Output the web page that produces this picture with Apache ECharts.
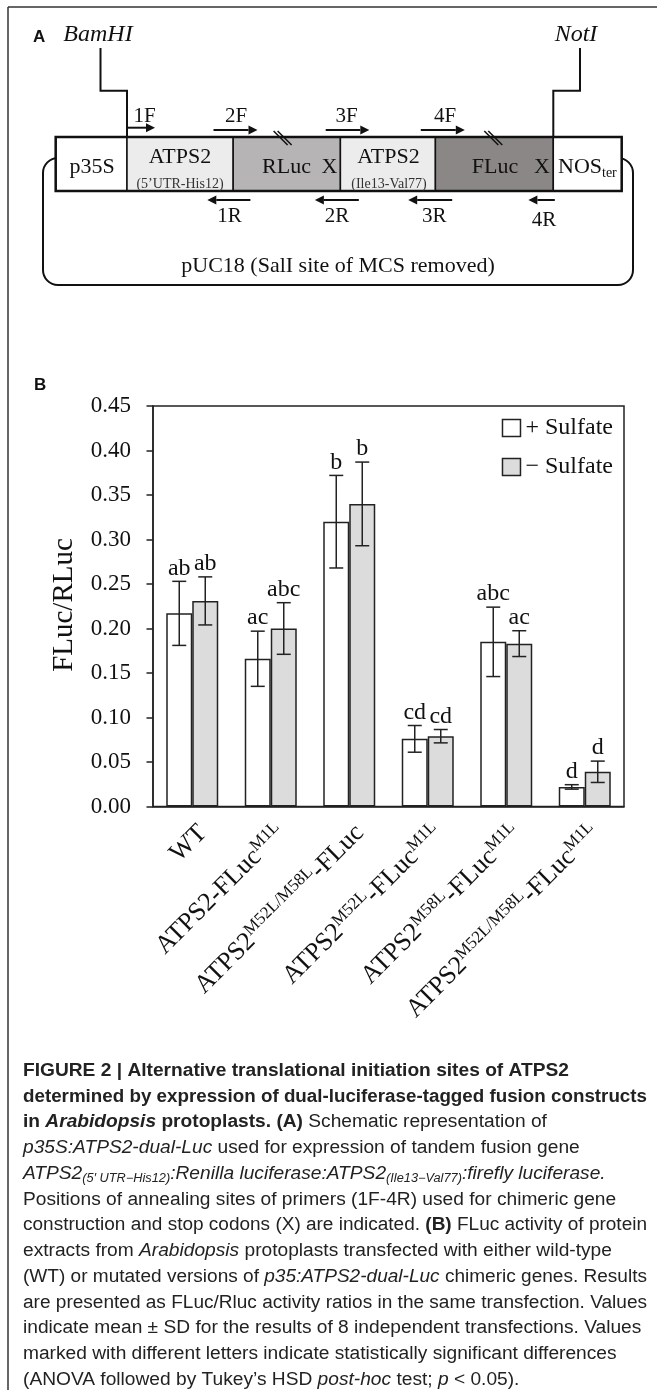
<!DOCTYPE html>
<html><head><meta charset="utf-8">
<script src="https://cdn.jsdelivr.net/npm/echarts@6/dist/echarts.min.js"></script>
<style>html,body{margin:0;padding:0;background:#fff}#c{width:657px;height:1390px}</style>
</head><body><div id="c"></div>
<script>
// ---------------- data ----------------
const categories = ['WT', 'ATPS2-FLuc^M1L', 'ATPS2^M52L/M58L-FLuc', 'ATPS2^M52L-FLuc^M1L', 'ATPS2^M58L-FLuc^M1L', 'ATPS2^M52L/M58L-FLuc^M1L'];
const seriesNames = ['+ Sulfate', '− Sulfate'];
const plusSulfate = [0.217, 0.166, 0.320, 0.076, 0.185, 0.022];
const plusSulfateSD = [0.036, 0.031, 0.052, 0.015, 0.039, 0.0025];
const minusSulfate = [0.231, 0.200, 0.340, 0.079, 0.183, 0.039];
const minusSulfateSD = [0.027, 0.029, 0.047, 0.0075, 0.0145, 0.012];
const plusLetters = ['ab', 'ac', 'b', 'cd', 'abc', 'd'];
const minusLetters = ['ab', 'abc', 'b', 'cd', 'ac', 'd'];
const yMin = 0, yMax = 0.45, yStep = 0.05;

// ---------------- styles ----------------
const SERIF = '"Liberation Serif","Times New Roman",serif';
const SANS = '"Liberation Sans",Arial,sans-serif';
const INK = '#111';
const g = [];
function line(x1, y1, x2, y2, w, c) { g.push({type: 'line', silent: true, shape: {x1, y1, x2, y2}, style: {stroke: c || INK, lineWidth: w || 2}}); }
function poly(points, w) { g.push({type: 'polyline', silent: true, shape: {points}, style: {stroke: INK, lineWidth: w || 2, fill: null}}); }
function rect(x, y, w, h, fill, lw, r) { g.push({type: 'rect', silent: true, shape: {x, y, width: w, height: h, r: r || 0}, style: {fill: fill || null, stroke: INK, lineWidth: lw || 1.5}}); }
function txt(x, y, text, size, opt) { g.push({type: 'text', silent: true, x, y, style: Object.assign({text, fontFamily: SERIF, fontSize: size, fill: INK, align: 'center', verticalAlign: 'middle'}, opt || {})}); }
function arrow(x1, x2, y) {
  const d = x2 > x1 ? 1 : -1, hl = 9, hw = 4.5;
  line(x1, y, x2 - d * hl, y, 2);
  g.push({type: 'polygon', silent: true, shape: {points: [[x2, y], [x2 - d * hl, y - hw], [x2 - d * hl, y + hw]]}, style: {fill: INK}});
}

// figure frame
line(8, 7, 657, 7, 1.5, '#333');
line(8, 7, 8, 1390, 1.5, '#333');

// ---------------- panel A (schematic) ----------------
txt(33, 37, 'A', 17, {fontFamily: SANS, fontWeight: 'bold', align: 'left'});
txt(98, 35, 'BamHI', 24, {fontStyle: 'italic'});
txt(576, 35, 'NotI', 24, {fontStyle: 'italic'});
rect(43, 158, 590, 127, null, 2, 15);
const segX = [55.7, 127, 233.2, 340.4, 435.4, 553.3, 621.7];
const segFill = ['#ffffff', '#ececec', '#b6b4b4', '#ececec', '#8b8787', '#ffffff'];
for (let i = 0; i < 6; i++) rect(segX[i], 137, segX[i + 1] - segX[i], 54, segFill[i], 1.5);
rect(55.7, 137, 566, 54, null, 2.5);
poly([[100.5, 48], [100.5, 90.7], [127, 90.7], [127, 137]], 2);
poly([[580, 48], [580, 90.7], [553.3, 90.7], [553.3, 137]], 2);
txt(92, 167, 'p35S', 22);
txt(180, 157, 'ATPS2', 22);
txt(180, 184, '(5’UTR-His12)', 14, {fill: '#333'});
txt(286.5, 167, 'RLuc', 22);
txt(329.5, 167, 'X', 22);
txt(388.5, 157, 'ATPS2', 22);
txt(389, 184, '(Ile13-Val77)', 14, {fill: '#333'});
txt(495, 167, 'FLuc', 22);
txt(542, 167, 'X', 22);
g.push({type: 'text', silent: true, x: 558, y: 167, style: {text: '{n|NOS}{s|ter}', fontFamily: SERIF, fontSize: 22, fill: INK, align: 'left', verticalAlign: 'middle',
  rich: {n: {fontFamily: SERIF, fontSize: 22, lineHeight: 26}, s: {fontFamily: SERIF, fontSize: 14, lineHeight: 14, verticalAlign: 'bottom'}}}});
[282.6, 493.3].forEach(cx => { [-2, 2].forEach(d => line(cx - 7 + d, 131, cx + 7 + d, 145, 1.5)); });
arrow(127, 155, 127.7); txt(144.5, 116.7, '1F', 21);
arrow(213.5, 257.5, 130); txt(236, 116.7, '2F', 21);
arrow(325.7, 369.3, 130); txt(346.7, 116.7, '3F', 21);
arrow(420.8, 464.8, 130); txt(445, 116.7, '4F', 21);
arrow(250.4, 207.3, 200); txt(229.4, 216.7, '1R', 21);
arrow(358.8, 314.9, 200); txt(337, 216.7, '2R', 21);
arrow(452.2, 408.2, 200); txt(434.2, 216.7, '3R', 21);
arrow(554.8, 528.4, 200); txt(544, 220, '4R', 21);
txt(338, 266.7, 'pUC18 (SalI site of MCS removed)', 22);

// ---------------- panel B labels ----------------
txt(34, 385, 'B', 17, {fontFamily: SANS, fontWeight: 'bold', align: 'left'});
g.push({type: 'text', silent: true, x: 64, y: 605, rotation: Math.PI / 2, style: {text: 'FLuc/RLuc', fontFamily: SERIF, fontSize: 29, fill: INK, align: 'center', verticalAlign: 'middle'}});

// ---------------- caption ----------------
const capLines = [
  [['b', 'FIGURE 2 | Alternative translational initiation sites of ATPS2']],
  [['b', 'determined by expression of dual-luciferase-tagged fusion constructs']],
  [['b', 'in '], ['bi', 'Arabidopsis'], ['b', ' protoplasts. (A)'], ['r', ' Schematic representation of']],
  [['i', 'p35S:ATPS2-dual-Luc'], ['r', ' used for expression of tandem fusion gene']],
  [['i', 'ATPS2'], ['sub', '(5′ UTR−His12)'], ['i', ':Renilla luciferase:ATPS2'], ['sub', '(Ile13−Val77)'], ['i', ':firefly luciferase.']],
  [['r', 'Positions of annealing sites of primers (1F-4R) used for chimeric gene']],
  [['r', 'construction and stop codons (X) are indicated. '], ['b', '(B)'], ['r', ' FLuc activity of protein']],
  [['r', 'extracts from '], ['i', 'Arabidopsis'], ['r', ' protoplasts transfected with either wild-type']],
  [['r', '(WT) or mutated versions of '], ['i', 'p35:ATPS2-dual-Luc'], ['r', ' chimeric genes. Results']],
  [['r', 'are presented as FLuc/Rluc activity ratios in the same transfection. Values']],
  [['r', 'indicate mean ± SD for the results of 8 independent transfections. Values']],
  [['r', 'marked with different letters indicate statistically significant differences']],
  [['r', '(ANOVA followed by Tukey’s HSD '], ['i', 'post-hoc'], ['r', ' test; '], ['i', 'p'], ['r', ' < 0.05).']]
];
const CAP = 18;
const capRich = {
  r: {fontFamily: SANS, fontSize: CAP, lineHeight: 22},
  b: {fontFamily: SANS, fontSize: CAP, fontWeight: 'bold', lineHeight: 22},
  bi: {fontFamily: SANS, fontSize: CAP, fontWeight: 'bold', fontStyle: 'italic', lineHeight: 22},
  i: {fontFamily: SANS, fontSize: CAP, fontStyle: 'italic', lineHeight: 22},
  sub: {fontFamily: SANS, fontSize: 12, fontStyle: 'italic', lineHeight: 12, verticalAlign: 'bottom'}
};
const mctx = document.createElement('canvas').getContext('2d');
function tokWidth(name, s) {
  const r = capRich[name];
  mctx.font = (r.fontStyle || 'normal') + ' ' + (r.fontWeight || 'normal') + ' ' + r.fontSize + 'px "Liberation Sans"';
  return mctx.measureText(s).width;
}
const capScale = 628 / tokWidth('r', 'are presented as FLuc/Rluc activity ratios in the same transfection. Values');
capLines.forEach((segs, i) => {
  const w = segs.reduce((a, s) => a + tokWidth(s[0], s[1]), 0) * capScale;
  const sc = w > 624 ? capScale * 624 / w : capScale;
  g.push({type: 'text', silent: true, x: 23, y: 1071 + i * 25.75, scaleX: sc,
    style: {text: segs.map(s => '{' + s[0] + '|' + s[1] + '}').join(''), rich: capRich, fontFamily: SANS, fontSize: CAP, fill: '#222', align: 'left', verticalAlign: 'middle'}});
});

// ---------------- chart ----------------
function fmtCat(v) { return v.replace(/\^([A-Za-z0-9\/]+)/g, '{sup|$1}'); }
const BARW = 26;
function errRender(shift, sds, letters) {
  return function (params, api) {
    const i = params.dataIndex;
    const m = api.value(1);
    const hi = api.coord([i, m + sds[i]]);
    const lo = api.coord([i, m - sds[i]]);
    const x = hi[0] + shift, cw = 7;
    const st = {stroke: '#222', lineWidth: 1.5};
    return {type: 'group', children: [
      {type: 'line', shape: {x1: x, y1: hi[1], x2: x, y2: lo[1]}, style: st},
      {type: 'line', shape: {x1: x - cw, y1: hi[1], x2: x + cw, y2: hi[1]}, style: st},
      {type: 'line', shape: {x1: x - cw, y1: lo[1], x2: x + cw, y2: lo[1]}, style: st},
      {type: 'text', x: x, y: hi[1] - 1, style: {text: letters[i], fontFamily: SERIF, fontSize: 24, fill: INK, align: 'center', verticalAlign: 'bottom'}}
    ]};
  };
}

const chart = echarts.init(document.getElementById('c'), null, {renderer: 'canvas'});
chart.setOption({
  animation: false,
  backgroundColor: '#fff',
  graphic: g,
  grid: {left: 153, right: 33, top: 406, bottom: 583.5, show: true, borderColor: '#222', borderWidth: 1.5, outerBoundsMode: 'none', containLabel: false},
  legend: {orient: 'vertical', right: 39, top: 411, itemWidth: 18, itemHeight: 17, itemGap: 15, icon: 'rect', data: seriesNames,
    textStyle: {fontFamily: SERIF, fontSize: 24, color: INK}, itemStyle: {borderColor: '#222', borderWidth: 1.5}},
  xAxis: {type: 'category', data: categories,
    axisLine: {lineStyle: {color: '#222', width: 1.5}}, axisTick: {show: false},
    axisLabel: {interval: 0, rotate: 45, margin: 12, verticalAlign: 'top', formatter: fmtCat, fontFamily: SERIF, fontSize: 26, lineHeight: 30, color: INK,
      rich: {sup: {fontFamily: SERIF, fontSize: 17, lineHeight: 16, verticalAlign: 'top', color: INK}}}},
  yAxis: {type: 'value', min: yMin, max: yMax, interval: yStep,
    axisLine: {show: true, lineStyle: {color: '#222', width: 1.5}},
    axisTick: {show: true, inside: false, length: 6.5, lineStyle: {color: '#222', width: 1.5}},
    splitLine: {show: false},
    axisLabel: {formatter: v => v.toFixed(2), fontFamily: SERIF, fontSize: 23, color: INK, margin: 22}},
  series: [
    {name: seriesNames[0], type: 'bar', data: plusSulfate, barWidth: BARW, barGap: '0%', itemStyle: {color: '#ffffff', borderColor: '#222', borderWidth: 1.5}},
    {name: seriesNames[1], type: 'bar', data: minusSulfate, barWidth: BARW, barGap: '0%', itemStyle: {color: '#dcdcdc', borderColor: '#222', borderWidth: 1.5}},
    {type: 'custom', silent: true, z: 10, data: plusSulfate.map((v, i) => [i, v]), encode: {x: 0, y: 1}, renderItem: errRender(-BARW / 2, plusSulfateSD, plusLetters)},
    {type: 'custom', silent: true, z: 10, data: minusSulfate.map((v, i) => [i, v]), encode: {x: 0, y: 1}, renderItem: errRender(BARW / 2, minusSulfateSD, minusLetters)}
  ]
});
</script></body></html>
